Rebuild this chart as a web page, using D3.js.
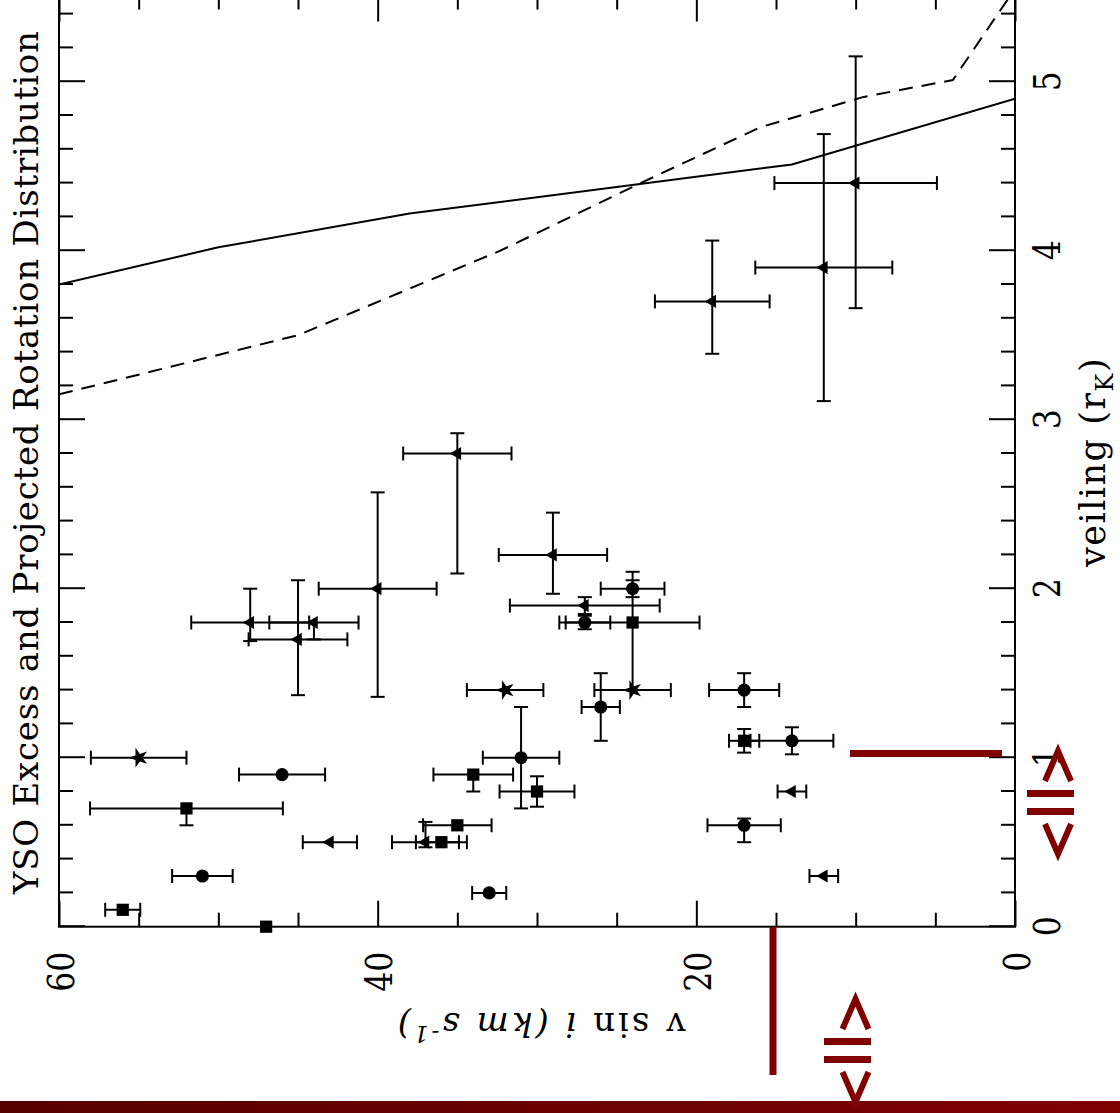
<!DOCTYPE html>
<html>
<head>
<meta charset="utf-8">
<script src="https://cdn.jsdelivr.net/npm/d3@7"></script>
<style>
    html, body { margin: 0; padding: 0; background: #fff; }
    svg { display: block; }
    text { font-family: "DejaVu Serif", "Liberation Serif", serif; fill: #000; }
</style>
</head>
<body>
<div id="chart"></div>
<script>
// one entry per star
var veiling   = [1.8, 1.8, 1.7, 2.0, 2.8, 2.2, 2.0, 1.8, 1.8, 1.9, 1.4, 1.4, 1.3, 1.4, 1.0, 1.1, 1.1, 0.9,
                 0.8, 0.8, 1.0, 0.9, 0.7, 0.5, 0.3, 0.1, 0.0, 0.6, 0.5, 0.5, 0.2, 0.6, 0.3, 4.4, 3.9, 3.7];
var veilErrLo = [0.11, 0.10, 0.33, 0.64, 0.71, 0.23, 0.05, 0.40, 0.04, 0.05, 0, 0, 0.20, 0.10, 0.30, 0.07, 0.08, 0.10,
                 0.09, 0, 0, 0, 0.10, 0, 0, 0, 0, 0, 0.03, 0, 0, 0.10, 0, 0.74, 0.79, 0.31];
var veilErrHi = [0.20, 0, 0.35, 0.57, 0.12, 0.25, 0.05, 0.30, 0.04, 0.05, 0, 0, 0.20, 0.10, 0.30, 0.07, 0.08, 0,
                 0.09, 0, 0, 0, 0, 0, 0, 0, 0, 0, 0.12, 0, 0, 0.04, 0, 0.75, 0.79, 0.36];
var vsini     = [48, 44, 45, 40, 35, 29, 24, 24, 27, 27, 32, 24, 26, 17, 31, 17, 14, 34,
                 30, 14, 55, 46, 52, 43, 51, 56, 47, 35, 37, 36, 33, 17, 12, 10, 12, 19];
var vsiniErr  = [3.7, 2.8, 3.1, 3.7, 3.4, 3.4, 2.0, 4.2, 1.6, 4.7, 2.4, 2.4, 1.2, 2.2, 2.4, 0.95, 2.6, 2.5,
                 2.35, 0.9, 3.0, 2.7, 6.05, 1.7, 1.9, 1.1, 0, 2.15, 2.1, 1.6, 1.07, 2.3, 0.9, 5.1, 4.3, 3.6];
var marker    = ['triangle', 'triangle', 'triangle', 'triangle', 'triangle', 'triangle', 'circle', 'square', 'circle',
                 'triangle', 'star', 'star', 'circle', 'circle', 'circle', 'square', 'circle', 'square',
                 'square', 'triangle', 'star', 'circle', 'square', 'triangle', 'circle', 'square', 'square',
                 'square', 'triangle', 'square', 'circle', 'circle', 'triangle', 'triangle', 'triangle', 'triangle'];

// model curves
var solidVsini = [60, 50, 38, 14, 0];
var solidVeil  = [3.80, 4.02, 4.22, 4.51, 4.90];
var dashVsini  = [60, 45, 32.3, 23.5, 16, 9.5, 3.9, 0];
var dashVeil   = [3.15, 3.50, 4.00, 4.40, 4.73, 4.91, 5.01, 5.55];

var veilTicks  = [0, 1, 2, 3, 4, 5];
var vsiniTicks = [0, 20, 40, 60];

var chart_width = 1120;
var chart_height = 1113;

var svg = d3.select('#chart')
    .append('svg')
    .attr('width', chart_width)
    .attr('height', chart_height);

// plot is built upright and then turned a quarter turn to the left
var plot = svg.append('g')
    .attr('transform', 'translate(0,' + chart_height + ') rotate(-90)');

var x_scale = d3.scaleLinear().domain([0, 5.51]).range([186.3, 186.3 + 5.51 * 169]);
var y_scale = d3.scaleLinear().domain([0, 60]).range([1015, 59]);

var x0 = x_scale.range()[0], x1 = x_scale.range()[1];
var y0 = y_scale.range()[0], y1 = y_scale.range()[1];

plot.append('clipPath')
    .attr('id', 'plot-clip')
    .append('rect')
    .attr('x', x0).attr('y', y1)
    .attr('width', x1 - x0).attr('height', y0 - y1);

var veilMinor = d3.range(0, 5.5001, 0.2).filter(function (d) {
    return Math.abs(d - Math.round(d)) > 1e-6;
});
var vsiniMinor = d3.range(0, 61, 5).filter(function (d) {
    return d % 20 !== 0;
});

function addAxis(axis, ticks, len, tx, ty, labels) {
    var g = plot.append('g')
        .attr('transform', 'translate(' + tx + ',' + ty + ')')
        .call(axis.tickValues(ticks).tickSizeInner(-len).tickSizeOuter(0)
            .tickFormat(labels ? d3.format('d') : ''));
    g.select('.domain').remove();
    g.selectAll('line').attr('stroke', '#000').attr('stroke-width', 2);
    return g;
}

// veiling axis (labelled side and its mirror)
var xb = addAxis(d3.axisBottom(x_scale), veilTicks, 26, 0, y0, true);
addAxis(d3.axisBottom(x_scale), veilMinor, 14, 0, y0, false);
addAxis(d3.axisTop(x_scale), veilTicks, 26, 0, y1, false);
addAxis(d3.axisTop(x_scale), veilMinor, 14, 0, y1, false);

// v sin i axis
var yl = addAxis(d3.axisLeft(y_scale), vsiniTicks, 26, x0, 0, true);
addAxis(d3.axisLeft(y_scale), vsiniMinor, 14, x0, 0, false);
addAxis(d3.axisRight(y_scale), vsiniTicks, 26, x1, 0, false);
addAxis(d3.axisRight(y_scale), vsiniMinor, 14, x1, 0, false);

xb.selectAll('text')
    .attr('y', null).attr('dy', null)
    .attr('transform', 'translate(0,45) scale(0.85,1)')
    .style('font-size', '37px')
    .attr('font-family', null);
yl.selectAll('text')
    .attr('x', null).attr('dy', null)
    .attr('transform', 'translate(-25,14) scale(0.85,1)')
    .style('font-size', '37px')
    .attr('font-family', null);

plot.append('rect')
    .attr('x', x0).attr('y', y1)
    .attr('width', x1 - x0).attr('height', y0 - y1)
    .attr('fill', 'none')
    .attr('stroke', '#000')
    .attr('stroke-width', 2);

// curves
var line = d3.line()
    .x(function (d) { return x_scale(d[1]); })
    .y(function (d) { return y_scale(d[0]); });

plot.append('path')
    .datum(d3.zip(solidVsini, solidVeil))
    .attr('clip-path', 'url(#plot-clip)')
    .attr('d', line)
    .attr('fill', 'none')
    .attr('stroke', '#000')
    .attr('stroke-width', 2);

plot.append('path')
    .datum(d3.zip(dashVsini, dashVeil))
    .attr('clip-path', 'url(#plot-clip)')
    .attr('d', line)
    .attr('fill', 'none')
    .attr('stroke', '#000')
    .attr('stroke-width', 2)
    .attr('stroke-dasharray', '14,9');

// error bars
var points = d3.range(veiling.length).map(function (i) {
    return {
        x: veiling[i], xlo: veiling[i] - veilErrLo[i], xhi: veiling[i] + veilErrHi[i],
        y: vsini[i], ylo: vsini[i] - vsiniErr[i], yhi: vsini[i] + vsiniErr[i],
        m: marker[i]
    };
});

var cap = 7;
var bars = plot.append('g')
    .attr('stroke', '#000')
    .attr('stroke-width', 2)
    .attr('fill', 'none');

points.forEach(function (p) {
    var px = x_scale(p.x), py = y_scale(p.y);
    if (p.yhi > p.y) {
        var a = y_scale(p.ylo), b = y_scale(p.yhi);
        bars.append('line').attr('x1', px).attr('x2', px).attr('y1', a).attr('y2', b);
        bars.append('line').attr('x1', px - cap).attr('x2', px + cap).attr('y1', a).attr('y2', a);
        bars.append('line').attr('x1', px - cap).attr('x2', px + cap).attr('y1', b).attr('y2', b);
    }
    [p.xlo, p.xhi].forEach(function (v) {
        if (Math.abs(v - p.x) < 1e-9) return;
        var e = x_scale(v);
        bars.append('line').attr('x1', px).attr('x2', e).attr('y1', py).attr('y2', py);
        bars.append('line').attr('x1', e).attr('x2', e).attr('y1', py - cap).attr('y2', py + cap);
    });
});

var symbols = {
    circle: d3.symbol().type(d3.symbolCircle).size(135),
    square: d3.symbol().type(d3.symbolSquare).size(150),
    triangle: d3.symbol().type(d3.symbolTriangle).size(75),
    star: d3.symbol().type(d3.symbolStar).size(120)
};

plot.append('g')
    .selectAll('path')
    .data(points)
    .enter()
    .append('path')
    .attr('transform', function (d) {
        return 'translate(' + x_scale(d.x) + ',' + y_scale(d.y) + ')';
    })
    .attr('d', function (d) { return symbols[d.m](); })
    .attr('fill', '#000');

// titles
plot.append('text')
    .attr('x', 219)
    .attr('y', 38)
    .attr('textLength', 863)
    .attr('lengthAdjust', 'spacing')
    .style('font-size', '34px')
    .text('YSO Excess and Projected Rotation Distribution');

var xl = plot.append('text')
    .attr('x', 546)
    .attr('y', 1105)
    .style('font-size', '35px')
    .style('letter-spacing', '1.5px');
xl.append('tspan').text('veiling (r');
xl.append('tspan').attr('dy', 8).style('font-size', '24px').text('K');
xl.append('tspan').attr('dy', -8).text(')');

var ylab = plot.append('text')
    .attr('transform', 'translate(100,540) rotate(-90)')
    .attr('text-anchor', 'middle')
    .style('font-size', '34px')
    .style('letter-spacing', '3px');
ylab.append('tspan').text('v sin ');
ylab.append('tspan').style('font-style', 'italic').text('i (km s');
ylab.append('tspan').attr('dy', -13).style('font-style', 'italic').style('font-size', '23px').text('-1');
ylab.append('tspan').attr('dy', 13).style('font-style', 'italic').text(')');

// red marks laid over the page
var grad = svg.append('defs').append('linearGradient').attr('id', 'band');
grad.append('stop').attr('offset', '0%').attr('stop-color', '#560000');
grad.append('stop').attr('offset', '100%').attr('stop-color', '#800000');

var red = '#800000';
var over = svg.append('g');
over.append('rect').attr('x', 0).attr('y', 1101).attr('width', chart_width).attr('height', 12).attr('fill', 'url(#band)');
over.append('rect').attr('x', 769.5).attr('y', 927).attr('width', 7).attr('height', 148).attr('fill', red);
over.append('rect').attr('x', 850).attr('y', 750).attr('width', 152).attr('height', 7).attr('fill', red);

function updown(cx, top, barX, barW) {
    var g = over.append('g').attr('stroke', red).attr('stroke-width', 6).attr('fill', 'none');
    g.append('path').attr('d', 'M' + (cx - 13) + ',' + (top + 31) + 'L' + cx + ',' + (top + 1) + 'L' + (cx + 13) + ',' + (top + 31));
    over.append('rect').attr('x', barX).attr('y', top + 40).attr('width', barW).attr('height', 7).attr('fill', red);
    over.append('rect').attr('x', barX).attr('y', top + 58).attr('width', barW).attr('height', 7).attr('fill', red);
    g.append('path').attr('d', 'M' + (cx - 13) + ',' + (top + 74) + 'L' + cx + ',' + (top + 104) + 'L' + (cx + 13) + ',' + (top + 74));
}
updown(1058, 750, 1027, 47);
updown(855.5, 998, 824, 47);
</script>
</body>
</html>
